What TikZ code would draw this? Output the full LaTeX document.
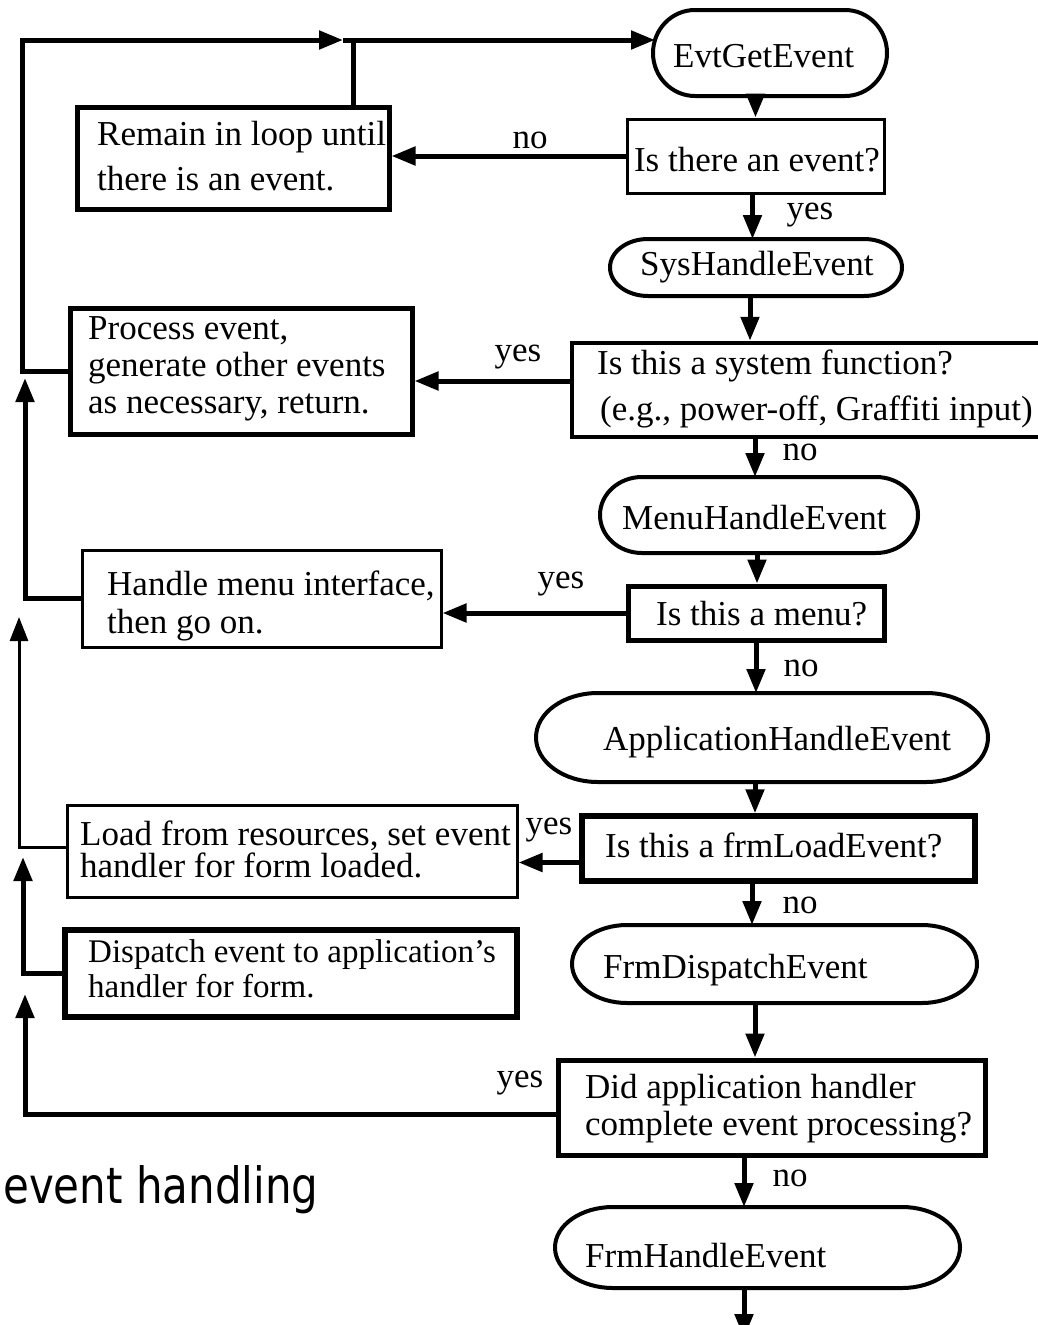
\documentclass[tikz,border=0pt]{standalone}
\usepackage{fontspec}
\setmainfont{Liberation Serif}
\newfontfamily\capfont[FakeStretch=0.84]{DejaVu Sans}
\usetikzlibrary{arrows.meta}
\newcommand\ovaloutline[3]{%
  \draw[ovalline] ([xshift=#2]#1.north west) -- ([xshift=-#2]#1.north east)
    arc[start angle=90, end angle=-90, x radius=#2, y radius=#3]
    -- ([xshift=#2]#1.south west)
    arc[start angle=270, end angle=90, x radius=#2, y radius=#3] -- cycle;}
\begin{document}
\begin{tikzpicture}[x=1pt,y=-1pt,
  conn/.style={line width=5pt},
  arr/.style={conn,-{Triangle[length=24pt,width=18pt]}},
  arrthin/.style={line width=3pt,-{Triangle[length=24pt,width=18pt]}},
  rbox/.style={draw,line width=#1,inner sep=0pt,fill=white},
  ovn/.style={inner sep=0pt,outer sep=0pt},
  ovalline/.style={line width=4pt},
  txt/.style={inner sep=0pt,anchor=west,align=left,font=\fontsize{35pt}{#1}\selectfont},
  txt/.default=40pt,
  ctxt/.style={inner sep=0pt,anchor=center,font=\fontsize{35pt}{40pt}\selectfont},
  lbl/.style={inner sep=0pt,anchor=center,font=\fontsize{35pt}{40pt}\selectfont}]
\fill[white] (0,0) rectangle (1038,1325);
\useasboundingbox (0,0) rectangle (1038,1325);

% ---- oval (terminal) nodes ----
\node[ovn, minimum width=234pt, minimum height=86pt] (evt) at (770,53) {};
\node[ovn, minimum width=292pt, minimum height=57pt] (sys) at (756,267.5) {};
\node[ovn, minimum width=318pt, minimum height=76pt] (menuov) at (759,515) {};
\node[ovn, minimum width=452pt, minimum height=89pt] (appov) at (762,737.5) {};
\node[ovn, minimum width=405pt, minimum height=78pt] (dispov) at (774.5,964) {};
\node[ovn, minimum width=405pt, minimum height=81pt] (handov) at (757.5,1247.5) {};
\ovaloutline{evt}{42pt}{43pt}
\ovaloutline{sys}{38pt}{28.5pt}
\ovaloutline{menuov}{42pt}{38pt}
\ovaloutline{appov}{62pt}{44.5pt}
\ovaloutline{dispov}{55pt}{39pt}
\ovaloutline{handov}{58pt}{40.5pt}

% ---- rectangular boxes ----
\node[rbox=5pt, minimum width=312pt, minimum height=102pt] (remain) at (233,158) {};
\node[rbox=3pt, minimum width=257pt, minimum height=74pt] (isthere) at (755.5,156) {};
\node[rbox=5pt, minimum width=342pt, minimum height=126pt] (process) at (241,371) {};
\node[rbox=4.5pt, minimum width=488pt, minimum height=94pt] (system) at (816,390) {};
\node[rbox=3pt, minimum width=359pt, minimum height=97pt] (handle) at (261.5,598.5) {};
\node[rbox=5pt, minimum width=256pt, minimum height=54pt] (menubox) at (756,613) {};
\node[rbox=3pt, minimum width=450pt, minimum height=92pt] (load) at (292,851) {};
\node[rbox=5.5pt, minimum width=393pt, minimum height=65pt] (frmload) at (778.5,848.5) {};
\node[rbox=6pt, minimum width=452pt, minimum height=87pt] (dispatch) at (291,973.5) {};
\node[rbox=5pt, minimum width=427pt, minimum height=95pt] (did) at (771.5,1107.5) {};

% ---- texts ----
\node[txt] (evtT) at (673,56) {EvtGetEvent};
\node[txt] (sysT) at (640,267) {SysHandleEvent};
\node[txt] (menuovT) at (622,518) {MenuHandleEvent};
\node[txt] (appovT) at (603,742) {ApplicationHandleEvent};
\node[txt] (dispovT) at (603,970) {FrmDispatchEvent};
\node[txt] (handovT) at (585,1256) {FrmHandleEvent};
\node[txt=45pt] (remainT) at (97,156) {Remain in loop until\\there is an event.};
\node[ctxt] (isthereT) at (757,160) {Is there an event?};
\node[txt=37pt] (processT) at (88,369) {Process event,\\generate other events\\as necessary, return.};
\node[txt=46pt] (systemT) at (597,389) {Is this a system function?\\\hspace*{3pt}(e.g., power-off, Graffiti input)};
\node[txt=38pt] (handleT) at (107,606) {Handle menu interface,\\then go on.};
\node[txt] (menuT) at (656,614) {Is this a menu?};
\node[txt=32pt] (loadT) at (80,849) {Load from resources, set event\\handler for form loaded.};
\node[txt] (frmloadT) at (605,845) {Is this a frmLoadEvent?};
\node[inner sep=0pt,anchor=west,align=left,font=\fontsize{33pt}{35pt}\selectfont] (dispatchT) at (88,969) {Dispatch event to application's\\handler for form.};
\node[txt=37pt] (didT) at (585,1109) {Did application handler\\complete event processing?};
\node[inner sep=0pt, anchor=base west, font={\capfont\fontsize{50pt}{55pt}\selectfont}] (caption) at (3,1203) {event handling};

% ---- labels ----
\node[lbl] (no1) at (530,140) {no};
\node[lbl] (yes1) at (810,215) {yes};
\node[lbl] (yes2) at (518,357) {yes};
\node[lbl] (no2) at (800,452) {no};
\node[lbl] (yes3) at (561,584) {yes};
\node[lbl] (no3) at (801,668) {no};
\node[lbl] (yes4) at (549,830) {yes};
\node[lbl] (no4) at (800,905) {no};
\node[lbl] (yes5) at (520,1083) {yes};
\node[lbl] (no5) at (790,1178) {no};

% ---- helper coordinates ----
\coordinate (TL) at (22,40);
\coordinate (Jtip) at (343,40);
\coordinate (J) at (353,40);
\coordinate (evtIn) at (655,40);
\coordinate (tipB) at (25,378);
\coordinate (tipC) at (19,617);
\coordinate (tipD) at (23,857);
\coordinate (tipE) at (25,994);
\coordinate (colA) at (755,0);
\coordinate (colB) at (744,0);
\coordinate (endB) at (744,1338);

% ---- connectors ----
\draw[arr] (process.west) -| (TL) -- (Jtip);
\draw[conn] (J |- remain.north) -- (J);
\draw[arr] (Jtip) -- (evtIn);
\draw[arr] (isthere.north |- evt.south) -- (isthere.north);
\draw[arr] (isthere.west) -- (isthere.west -| remain.east);
\draw[arr] ([xshift=-3pt]isthere.south) -- ([xshift=-3pt]isthere.south |- sys.north);
\draw[arr] ([xshift=-6pt]sys.south) -- ([xshift=-6pt]sys.south |- system.north);
\draw[arr] ([yshift=9pt]system.west) -- ([yshift=9pt]system.west -| process.east);
\draw[arr] ([xshift=-4pt]menuov.north |- system.south) -- ([xshift=-4pt]menuov.north);
\draw[arr] ([xshift=-2pt]menuov.south) -- ([xshift=-2pt]menuov.south |- menubox.north);
\draw[arr] (menubox.west) -- (menubox.west -| handle.east);
\draw[arr] (handle.west) -| (tipB);
\draw[arr] (menubox.south) -- (menubox.south |- appov.north);
\draw[arr] (colA |- appov.south) -- (colA |- frmload.north);
\draw[arr] ([yshift=-14pt]frmload.west) -- ([yshift=-14pt]frmload.west -| load.east);
\draw[arrthin] ([yshift=4pt]load.west) -| (tipC);
\draw[arr] ([xshift=-3pt]colA |- frmload.south) -- ([xshift=-3pt]colA |- dispov.north);
\draw[arr] (colA |- dispov.south) -- (colA |- did.north);
\draw[arr] (dispatch.west) -| (tipD);
\draw[arr] ([yshift=-7pt]did.west) -| (tipE);
\draw[arr] (colB |- did.south) -- (colB |- handov.north);
\draw[arr] (colB |- handov.south) -- (endB);
\end{tikzpicture}
\end{document}
